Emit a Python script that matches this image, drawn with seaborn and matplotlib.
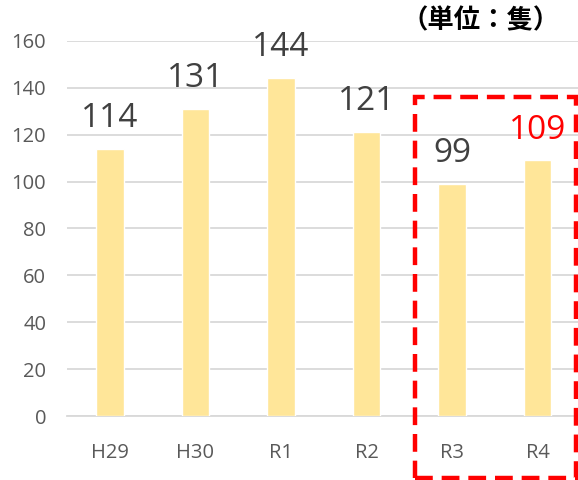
import matplotlib
matplotlib.use("Agg")
import matplotlib.pyplot as plt
import seaborn as sns
import pandas as pd
from matplotlib.patches import Rectangle

categories = ["H29", "H30", "R1", "R2", "R3", "R4"]
values = [114, 131, 144, 121, 99, 109]
label_colors = ["#404040", "#404040", "#404040", "#404040", "#404040", "#FF0000"]
yticks = [0, 20, 40, 60, 80, 100, 120, 140, 160]

sns.set_theme(style="white")
plt.rcParams['font.family'] = ['Open Sans', 'Noto Sans CJK JP', 'DejaVu Sans']

df = pd.DataFrame({"cat": categories, "val": values})

fig = plt.figure(figsize=(5.78, 4.80), dpi=100)
ax = fig.add_axes([0.116, 0.133, 0.888, 0.782])
sns.barplot(data=df, x="cat", y="val", color="#FFE699", saturation=1, width=0.32, ax=ax, zorder=3)
ax.set_ylim(0, 160)
ax.set_xlim(-0.5, 5.5)
ax.set_yticks(yticks)
ax.yaxis.grid(True, color="#d9d9d9", linewidth=1.3, zorder=0)
ax.set_axisbelow(True)
for s in ["top", "right", "left"]:
    ax.spines[s].set_visible(False)
ax.spines["bottom"].set_color("#d9d9d9")
ax.spines["bottom"].set_linewidth(1.3)
ax.set_xlabel("")
ax.set_ylabel("")
ax.tick_params(axis="both", length=0, labelsize=14.5, colors="#595959")
ax.tick_params(axis="x", pad=19)
ax.tick_params(axis="y", pad=15)

for i, (v, c) in enumerate(zip(values, label_colors)):
    ax.annotate(str(v), (i, v), xytext=(0, 10), textcoords="offset points",
                ha="center", va="bottom", fontsize=24, color=c)

fig.text(0.969, 0.956, "（単位：隻）", ha="right", va="center", fontsize=19,
         fontweight="bold", color="#000000", family=['Noto Sans CJK JP', 'DejaVu Sans'])

rect = Rectangle((0.718, 0.004), 0.278, 0.794, transform=fig.transFigure,
                 fill=False, edgecolor="#FF0000", linewidth=3.2,
                 linestyle=(0, (4, 2)), clip_on=False)
fig.patches.append(rect)

fig.savefig("out.png", dpi=100)
